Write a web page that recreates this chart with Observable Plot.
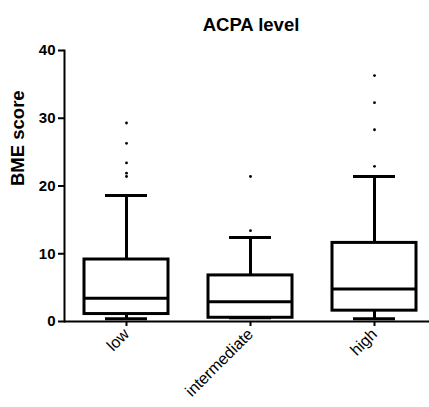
<!DOCTYPE html>
<html>
<head>
<meta charset="utf-8">
<script src="https://cdn.jsdelivr.net/npm/d3@7"></script>
<script src="https://cdn.jsdelivr.net/npm/@observablehq/plot@0.6"></script>
<style>
  html, body { margin: 0; padding: 0; background: #fff; }
  g[aria-label="chart title"] text, g[aria-label="y label"] text { letter-spacing: 1px; }
</style>
</head>
<body>
<div id="chart"></div>
<script>
const title = "ACPA level";
const yLabel = "BME score";
const categories = ["low", "intermediate", "high"];
const q1 = [1.1, 0.55, 1.6];
const median = [3.45, 2.9, 4.8];
const q3 = [9.15, 6.8, 11.6];
const whiskerLow = [0.4, 0.55, 0.4];
const whiskerHigh = [18.6, 12.4, 21.4];
const outliersLow = [29.3, 26.3, 23.4, 21.9, 21.4];
const outliersIntermediate = [21.4, 13.4];
const outliersHigh = [36.3, 32.3, 28.3, 22.9];
const yTicks = [0, 10, 20, 30, 40];

const boxes = categories.map((c, i) => ({
  cat: c, q1: q1[i], median: median[i], q3: q3[i], lo: whiskerLow[i], hi: whiskerHigh[i]
}));
const outliers = [
  ...outliersLow.map(v => ({cat: "low", v})),
  ...outliersIntermediate.map(v => ({cat: "intermediate", v})),
  ...outliersHigh.map(v => ({cat: "high", v}))
];

const font = "'Liberation Sans', Arial, sans-serif";

const chart = Plot.plot({
  width: 429,
  height: 407,
  marginLeft: 64,
  marginRight: 0,
  marginTop: 50,
  marginBottom: 86,
  style: {fontFamily: font, background: "#fff", color: "#000"},
  x: {domain: categories, range: [64, 436], paddingInner: 0.32, paddingOuter: 0.16, axis: null},
  y: {domain: [0, 40], axis: null},
  marks: [
    Plot.frame({anchor: "left", strokeWidth: 2}),
    Plot.ruleY([0], {strokeWidth: 1.8}),
    Plot.axisY({ticks: yTicks, tickSize: 6, tickPadding: 3, strokeWidth: 2, fontSize: 15, fontWeight: "bold", label: null}),
    Plot.axisX({tickSize: 5, strokeWidth: 2, tickRotate: -45, fontSize: 16, tickPadding: 5, label: null}),
    Plot.ruleX(boxes, {x: "cat", y1: "q3", y2: "hi", strokeWidth: 3}),
    Plot.ruleX(boxes, {x: "cat", y1: "lo", y2: "q1", strokeWidth: 3}),
    Plot.barY(boxes, {x: "cat", y1: "q1", y2: "q3", fill: "white", stroke: "black", strokeWidth: 3}),
    Plot.tickY(boxes, {x: "cat", y: "median", strokeWidth: 3}),
    Plot.tickY(boxes, {x: "cat", y: "hi", strokeWidth: 3, insetLeft: 21, insetRight: 21}),
    Plot.tickY(boxes, {x: "cat", y: "lo", strokeWidth: 3, insetLeft: 21, insetRight: 21}),
    Plot.dot(outliers, {x: "cat", y: "v", r: 1.4, fill: "black", stroke: null}),
    Plot.text([title], {frameAnchor: "top", dy: -33, dx: 4, fontSize: 18.5, fontWeight: "bold", ariaLabel: "chart title"}),
    Plot.text([yLabel], {frameAnchor: "left", dx: -46, rotate: -90, fontSize: 18.5, fontWeight: "bold", ariaLabel: "y label"})
  ]
});
document.getElementById("chart").appendChild(chart);
</script>
</body>
</html>
